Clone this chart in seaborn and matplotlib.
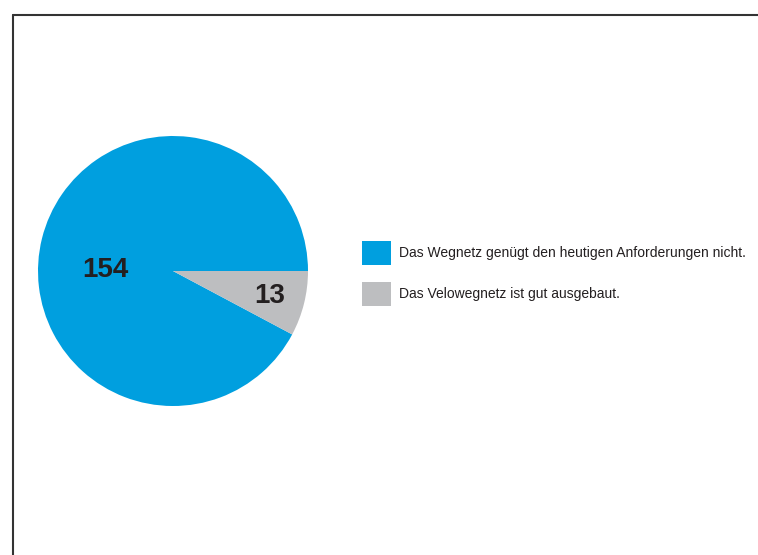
import matplotlib
matplotlib.use("Agg")
import matplotlib.pyplot as plt
from matplotlib.patches import Patch
from matplotlib.lines import Line2D
import seaborn as sns

categories = ["Das Wegnetz genügt den heutigen Anforderungen nicht.",
              "Das Velowegnetz ist gut ausgebaut."]
values = [154, 13]
colors = ["#009FDF", "#BDBEC0"]

sns.set_theme(style="white")
plt.rcParams['font.family'] = ['Liberation Sans', 'DejaVu Sans']

W, H = 758, 555
fig = plt.figure(figsize=(W / 100, H / 100), dpi=100)
fig.patch.set_facecolor("white")

cx, cy, r = 173, 271, 135
ax = fig.add_axes([(cx - r) / W, (H - cy - r) / H, 2 * r / W, 2 * r / H])
total = sum(values)
wedges, _, autotexts = ax.pie(values, colors=colors, startangle=0, counterclock=True,
                              radius=1, autopct=lambda p: f"{round(p * total / 100)}",
                              pctdistance=0.5, wedgeprops=dict(linewidth=0),
                              textprops=dict(fontsize=20, fontweight="bold", color="#231F20"))
autotexts[0].set_position((-0.5, 0.004))
autotexts[1].set_position((0.715, -0.185))
for t in autotexts:
    t.set_ha("center")
    t.set_va("center")
ax.set_xlim(-1, 1)
ax.set_ylim(-1, 1)
ax.set_aspect("equal")
ax.axis("off")

# frame lines
fig.add_artist(Line2D([13 / W, 13 / W], [0, 1 - 15 / H], transform=fig.transFigure,
                      color="#333333", linewidth=1.5))
fig.add_artist(Line2D([13 / W, 1], [1 - 15 / H, 1 - 15 / H], transform=fig.transFigure,
                      color="#333333", linewidth=1.5))

fs = 10
fpx = fs * 100 / 72
handles = [Patch(facecolor=c, edgecolor="none") for c in colors]
fig.legend(handles, categories, loc="upper left",
           bbox_to_anchor=(362 / W, 1 - 241 / H), bbox_transform=fig.transFigure,
           frameon=False, fontsize=fs, borderpad=0, borderaxespad=0,
           handlelength=29 / fpx, handleheight=2.28, handletextpad=8 / fpx,
           labelspacing=17 / fpx, labelcolor="#231F20")

fig.savefig("out.png", dpi=100, facecolor="white")
